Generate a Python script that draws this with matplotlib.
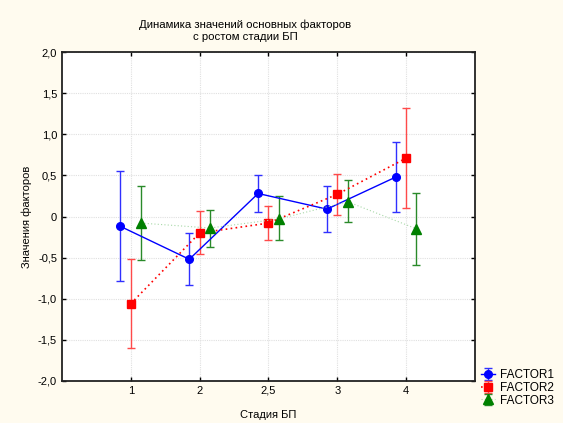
import numpy as np
import matplotlib
matplotlib.use("Agg")
import matplotlib.pyplot as plt

plt.rcParams['font.family'] = ['Liberation Sans', 'DejaVu Sans']

stages = ["1", "2", "2,5", "3", "4"]

f1_mean = [-0.12, -0.52, 0.28, 0.09, 0.48]
f1_low = [-0.78, -0.83, 0.05, -0.19, 0.05]
f1_high = [0.55, -0.20, 0.51, 0.37, 0.90]

f2_mean = [-1.06, -0.20, -0.08, 0.27, 0.71]
f2_low = [-1.60, -0.45, -0.29, 0.02, 0.10]
f2_high = [-0.52, 0.07, 0.13, 0.52, 1.32]

f3_mean = [-0.08, -0.14, -0.03, 0.18, -0.15]
f3_low = [-0.53, -0.37, -0.29, -0.07, -0.59]
f3_high = [0.37, 0.08, 0.25, 0.44, 0.29]

yticks = [-2.0, -1.5, -1.0, -0.5, 0, 0.5, 1.0, 1.5, 2.0]
ytick_labels = ["-2,0", "-1,5", "-1,0", "-0,5", "0", "0,5", "1,0", "1,5", "2,0"]

bg = "#fffbef"
fig = plt.figure(figsize=(5.63, 4.23), dpi=100, facecolor=bg)
ax = fig.add_axes([0.110, 0.0993, 0.7337, 0.7777])
ax.set_facecolor("white")

x = np.arange(len(stages))

def draw(offset, mean, low, high, color, marker, ls, lw, ms, label, ecolor):
    m = np.array(mean)
    err = [m - np.array(low), np.array(high) - m]
    return ax.errorbar(x + offset, m, yerr=err, color=color, marker=marker,
                       linestyle=ls, linewidth=lw, markersize=ms,
                       ecolor=ecolor, elinewidth=1.0, capsize=3,
                       capthick=1.0, label=label, zorder=3)

h1 = draw(-0.15, f1_mean, f1_low, f1_high, "#0000ff", "o", "-", 1.0, 5.5, "FACTOR1", "#3030ff")
h2 = draw(0.0, f2_mean, f2_low, f2_high, "#ff0000", "s", (0, (1, 2)), 1.2, 5.5, "FACTOR2", "#ff4a4a")
h3 = draw(0.15, f3_mean, f3_low, f3_high, "#008000", "^", (0, (1, 2)), 0.8, 6.5, "FACTOR3", "#2a8a2a")
h3[0].set_color("#a8d8a8")
h3[0].set_markerfacecolor("#008000")
h3[0].set_markeredgecolor("#008000")

ax.set_xlim(-1, 5)
ax.set_ylim(-2, 2)
ax.set_xticks(x)
ax.set_xticklabels(stages, fontsize=8)
ax.set_yticks(yticks)
ax.set_yticklabels(ytick_labels, fontsize=8)
ax.tick_params(direction="in", length=3, top=True, right=True, width=1)
ax.grid(True, color="#e0e0e0", linestyle=(0, (1, 1)), linewidth=0.8)
for s in ax.spines.values():
    s.set_linewidth(1.3)
    s.set_color("#222222")

ax.set_xlabel("Стадия БП", fontsize=8, labelpad=10)
ax.set_ylabel("Значения факторов", fontsize=8, labelpad=4)

fig.text(0.436, 0.955, "Динамика значений основных факторов\nс ростом стадии БП",
         ha="center", va="top", fontsize=8.2, linespacing=1.25)

ax.legend(handles=[h1, h2, h3], loc="lower left", bbox_to_anchor=(1.008, -0.085),
          fontsize=8.5, frameon=False, handlelength=1.2, handletextpad=0.4,
          labelspacing=0.05, borderaxespad=0, borderpad=0.2)

fig.savefig("out.png", dpi=100, facecolor=bg)
